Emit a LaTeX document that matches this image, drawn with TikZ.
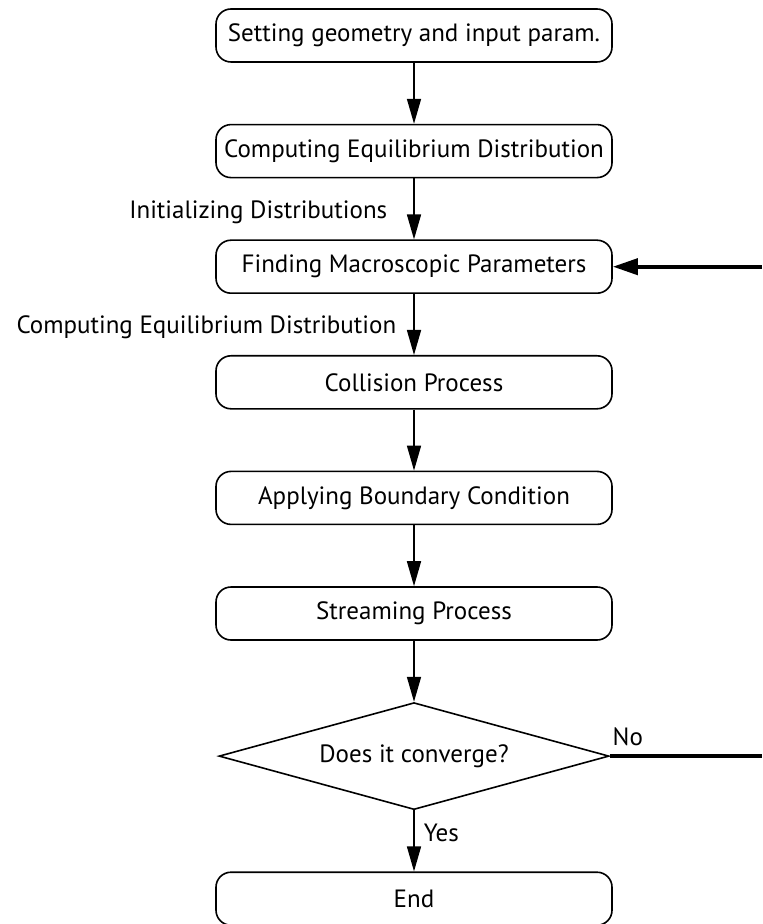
\documentclass[tikz,border=0pt]{standalone}
\usepackage{fontspec}
\setmainfont{PT Sans}
\usetikzlibrary{arrows.meta}
\usetikzlibrary{shapes.geometric}
\usetikzlibrary{positioning}

\begin{document}
\begin{tikzpicture}[
	font=\fontsize{12.5}{14}\selectfont,
	node distance=30.5pt,
	stepbox/.style={draw, line width=0.8pt, rounded corners=7.5pt, minimum width=198pt, minimum height=26.5pt, inner sep=0pt},
	decide/.style={draw, diamond, line width=0.8pt, shape aspect=3.6, minimum width=195pt, minimum height=53.5pt, inner sep=0pt},
	flow/.style={line width=0.8pt, -{Triangle[length=12.5pt,width=7pt]}},
	back/.style={line width=1.9pt},
	lbl/.style={inner sep=0pt}
	]
	\useasboundingbox (0,0) rectangle (381pt,-462pt);
	% steps of the scheme
	\node[stepbox] (setup) at (207pt,-17.75pt) {Setting geometry and input param.};
	\node[stepbox, below=of setup] (equil) {Computing Equilibrium Distribution};
	\node[stepbox, below=of equil] (macro) {Finding Macroscopic Parameters};
	\node[stepbox, below=of macro] (coll) {Collision Process};
	\node[stepbox, below=of coll] (bound) {Applying Boundary Condition};
	\node[stepbox, below=of bound] (stream) {Streaming Process};
	\node[decide, below=of stream] (conv) {Does it converge?};
	\node[stepbox, below=of conv] (stop) {End};
	\coordinate (redge) at (381pt,0);
	
	\draw[flow] (setup) -- (equil);
	\draw[flow] (equil) -- node[lbl, left=13pt, yshift=-1.75pt] {Initializing Distributions} (macro);
	\draw[flow] (macro) -- node[lbl, left=8.5pt, yshift=-1.25pt] {Computing Equilibrium Distribution} (coll);
	\draw[flow] (coll) -- (bound);
	\draw[flow] (bound) -- (stream);
	\draw[flow] (stream) -- (conv);
	\draw[flow] (conv) -- node[lbl, pos=0.37, right=4.5pt] {Yes} (stop);
	% loop back
	\draw[back] (conv.east) node[lbl, above right=4pt and 0.5pt] {No} -- (conv.east -| redge);
	\draw[back, -{Triangle[length=12.5pt,width=8pt]}] (macro.east -| redge) -- (macro.east);
\end{tikzpicture}
\end{document}
